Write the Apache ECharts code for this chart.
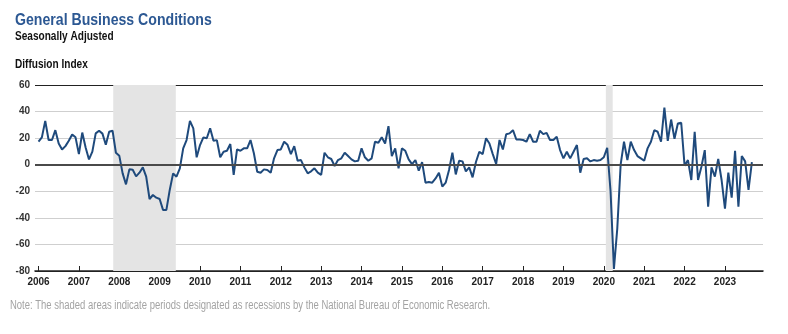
<!DOCTYPE html>
<html>
<head>
<meta charset="utf-8">
<script src="https://cdn.jsdelivr.net/npm/echarts@6/dist/echarts.min.js"></script>
<style>
  html, body { margin: 0; padding: 0; background: #fff; }
  #chart { width: 788px; height: 334px; }
</style>
</head>
<body>
<div id="chart"></div>
<script>
// Empire State Manufacturing Survey: general business conditions, monthly, Jan 2006 onward
const startYear = 2006;
const years = [2006, 2007, 2008, 2009, 2010, 2011, 2012, 2013, 2014, 2015, 2016, 2017, 2018, 2019, 2020, 2021, 2022, 2023];
const yTicks = [-80, -60, -40, -20, 0, 20, 40, 60];

const v2006 = [17.3, 20.6, 33.0, 18.6, 18.6, 26.0, 16.0, 11.5, 14.0, 18.0, 22.8, 20.6];
const v2007 = [8.0, 24.2, 13.0, 4.0, 9.8, 23.6, 25.6, 23.4, 15.0, 24.8, 25.6, 9.0];
const v2008 = [6.8, -6.5, -14.8, -3.5, -3.8, -8.8, -6.0, -2.0, -9.0, -25.8, -22.8, -24.8];
const v2009 = [-25.8, -34.0, -34.0, -19.0, -6.5, -9.0, -2.7, 12.3, 18.6, 33.0, 27.4, 5.6];
const v2010 = [14.8, 20.6, 19.9, 27.4, 18.0, 18.5, 5.6, 9.8, 10.5, 15.6, -7.7, 11.5];
const v2011 = [10.5, 12.3, 12.3, 18.6, 8.6, -5.3, -6.0, -3.5, -4.0, -6.0, 4.8, 11.0];
const v2012 = [11.5, 17.3, 15.0, 8.0, 14.0, 3.0, 3.5, -2.0, -6.5, -5.0, -2.7, -6.0];
const v2013 = [-7.7, 9.0, 5.6, 4.3, -1.0, 3.5, 4.8, 9.0, 6.5, 4.0, 2.5, 3.0];
const v2014 = [12.3, 5.6, 3.0, 4.8, 17.3, 16.5, 20.6, 16.0, 29.0, 6.5, 12.3, -2.7];
const v2015 = [12.3, 10.5, 4.0, 0.5, 3.5, -4.5, 2.0, -13.5, -13.0, -13.5, -10.3, -6.0];
const v2016 = [-16.5, -13.5, -4.0, 9.0, -7.3, 3.0, 2.5, -5.0, -2.0, -9.5, 2.0, 9.8];
const v2017 = [8.0, 19.9, 16.0, 8.0, 0.5, 18.6, 11.5, 23.0, 23.6, 26.0, 19.0, 19.0];
const v2018 = [18.6, 17.3, 23.0, 17.3, 17.3, 25.6, 23.0, 24.0, 18.6, 18.6, 21.0, 11.0];
const v2019 = [4.8, 9.8, 4.8, 9.8, 14.8, -6.0, 4.3, 4.8, 2.5, 3.5, 3.0, 3.5];
const v2020 = [5.6, 12.8, -20.0, -78.5, -48.0, 0.0, 17.3, 3.5, 17.3, 11.0, 6.5, 4.8];
const v2021 = [3.0, 12.3, 17.3, 26.0, 24.8, 17.3, 43.0, 18.0, 34.0, 19.5, 31.0, 31.6];
const v2022 = [-0.7, 3.5, -11.5, 24.8, -11.5, -1.5, 11.0, -31.6, -2.0, -9.0, 4.3, -11.5];
const v2023 = [-33.0, -6.0, -24.8, 10.5, -31.6, 6.5, 2.5, -19.0, 2.0];

// NBER recession periods, as fractional years
const recessions = [[2007.85, 2009.4], [2020.05, 2020.22]];

const monthly = [].concat(v2006, v2007, v2008, v2009, v2010, v2011, v2012, v2013,
  v2014, v2015, v2016, v2017, v2018, v2019, v2020, v2021, v2022, v2023);
const seriesData = monthly.map((v, i) => [startYear + i / 12, v]);

const chart = echarts.init(document.getElementById('chart'), null, { renderer: 'canvas' });
const sans = '"Liberation Sans", Arial, sans-serif';

// headings use a horizontally condensed sans
function label(text, x, y, font, fill, sx) {
  return { type: 'text', x: x, y: y, scaleX: sx, originX: 0, originY: 0,
           style: { text: text, fill: fill, font: font, verticalAlign: 'top' } };
}

chart.setOption({
  backgroundColor: '#fff',
  animation: false,
  graphic: [
    label('General Business Conditions', 15, 12, 'bold 17px ' + sans, '#2c5893', 0.83),
    label('Seasonally Adjusted', 15, 31, 'bold 12px ' + sans, '#111', 0.84),
    label('Diffusion Index', 15, 59, 'bold 12px ' + sans, '#111', 0.84),
    label('Note: The shaded areas indicate periods designated as recessions by the National Bureau of Economic Research.',
          10, 300, '12px ' + sans, '#a3a3a3', 0.79)
  ],
  grid: { left: 35, right: 25, top: 85, bottom: 63, containLabel: false },
  xAxis: {
    type: 'value',
    min: 2005.913,
    max: 2023.942,
    axisLine: { show: true, onZero: false, lineStyle: { color: '#222', width: 1.6 } },
    axisTick: { show: true, inside: true, length: 5, customValues: years, lineStyle: { color: '#222', width: 1 } },
    axisLabel: { show: true, customValues: years, formatter: v => String(Math.round(v)),
                 color: '#222', fontWeight: 'bold', fontSize: 10, fontFamily: sans, margin: 6 },
    splitLine: { show: false }
  },
  yAxis: {
    type: 'value',
    min: yTicks[0],
    max: yTicks[yTicks.length - 1],
    interval: 20,
    axisLine: { show: false },
    axisTick: { show: false },
    axisLabel: { color: '#333', fontWeight: 'bold', fontSize: 10, fontFamily: sans, margin: 5 },
    splitLine: { show: true, lineStyle: { color: ['#222', '#cfcfcf', '#cfcfcf', '#cfcfcf', '#cfcfcf', '#cfcfcf', '#cfcfcf', '#222'], width: 1 } }
  },
  series: [
    {
      // shading and zero line sit underneath the index line
      type: 'line',
      data: [],
      z: 1,
      silent: true,
      markArea: {
        silent: true,
        itemStyle: { color: '#e4e4e4' },
        data: recessions.map(r => [{ xAxis: r[0] }, { xAxis: r[1] }])
      },
      markLine: {
        silent: true,
        symbol: 'none',
        label: { show: false },
        lineStyle: { color: '#4a4a4a', width: 2.2, type: 'solid' },
        data: [{ yAxis: 0 }]
      }
    },
    {
      type: 'line',
      data: seriesData,
      z: 3,
      showSymbol: false,
      symbol: 'none',
      lineStyle: { color: '#1f4a7c', width: 2 },
      silent: true
    }
  ]
});
</script>
</body>
</html>
